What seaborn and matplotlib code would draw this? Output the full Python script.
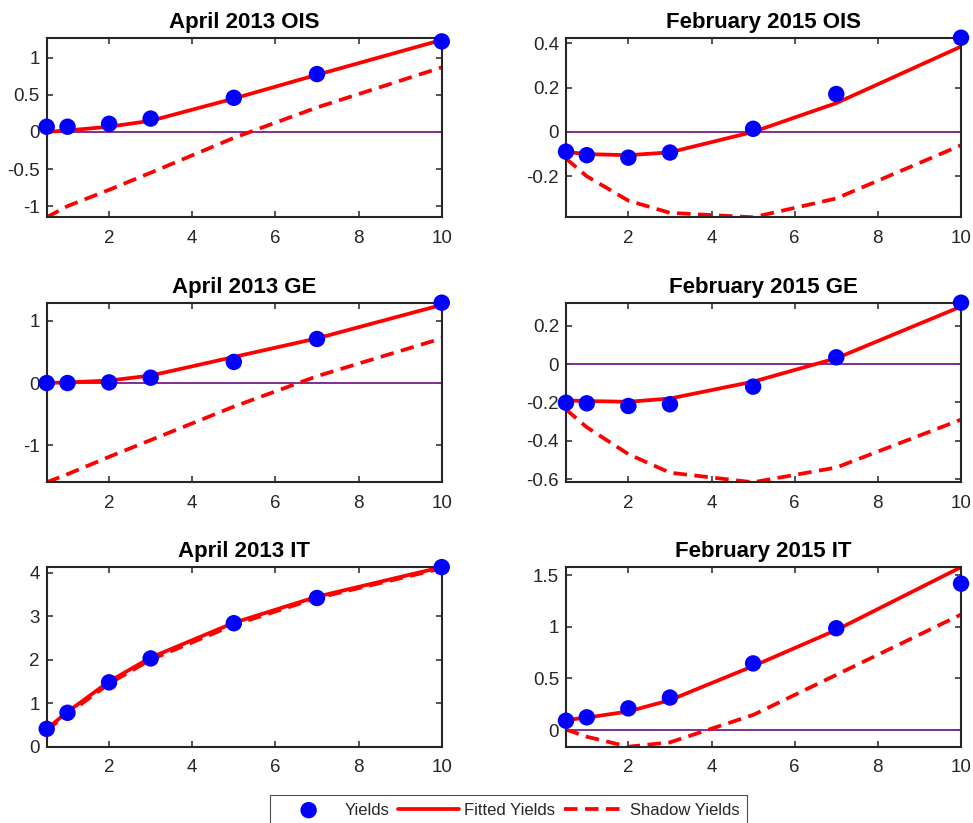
import numpy as np
import pandas as pd
import seaborn as sns
import matplotlib.pyplot as plt
from matplotlib.ticker import FuncFormatter

# maturities (years)
maturities = [0.5, 1, 2, 3, 5, 7, 10]

titles = ['April 2013 OIS', 'February 2015 OIS',
          'April 2013 GE', 'February 2015 GE',
          'April 2013 IT', 'February 2015 IT']

# observed yields
yields_ois_13 = [0.07, 0.07, 0.11, 0.18, 0.46, 0.78, 1.22]
yields_ois_15 = [-0.089, -0.105, -0.116, -0.093, 0.014, 0.171, 0.425]
yields_ge_13 = [0.0, 0.0, 0.01, 0.086, 0.34, 0.71, 1.295]
yields_ge_15 = [-0.202, -0.205, -0.219, -0.21, -0.118, 0.035, 0.32]
yields_it_13 = [0.41, 0.78, 1.48, 2.03, 2.84, 3.42, 4.13]
yields_it_15 = [0.09, 0.123, 0.21, 0.315, 0.646, 0.987, 1.42]

# fitted yields
fitted_ois_13 = [0.0, 0.02, 0.07, 0.15, 0.45, 0.77, 1.24]
fitted_ois_15 = [-0.09, -0.10, -0.105, -0.092, 0.0, 0.13, 0.385]
fitted_ge_13 = [0.0, 0.01, 0.04, 0.12, 0.42, 0.72, 1.26]
fitted_ge_15 = [-0.19, -0.193, -0.197, -0.18, -0.092, 0.03, 0.30]
fitted_it_13 = [0.41, 0.80, 1.50, 2.05, 2.85, 3.45, 4.13]
fitted_it_15 = [0.097, 0.12, 0.18, 0.29, 0.62, 0.97, 1.58]

# shadow yields
shadow_ois_13 = [-1.15, -1.0, -0.78, -0.55, -0.08, 0.33, 0.87]
shadow_ois_15 = [-0.12, -0.20, -0.31, -0.365, -0.385, -0.30, -0.06]
shadow_ge_13 = [-1.60, -1.47, -1.19, -0.92, -0.38, 0.11, 0.72]
shadow_ge_15 = [-0.237, -0.33, -0.47, -0.567, -0.617, -0.54, -0.29]
shadow_it_13 = [0.38, 0.75, 1.45, 2.0, 2.8, 3.42, 4.1]
shadow_it_15 = [0.005, -0.065, -0.162, -0.12, 0.146, 0.535, 1.12]

all_yields = [yields_ois_13, yields_ois_15, yields_ge_13, yields_ge_15, yields_it_13, yields_it_15]
all_fitted = [fitted_ois_13, fitted_ois_15, fitted_ge_13, fitted_ge_15, fitted_it_13, fitted_it_15]
all_shadow = [shadow_ois_13, shadow_ois_15, shadow_ge_13, shadow_ge_15, shadow_it_13, shadow_it_15]

ylims = [(-1.15, 1.27), (-0.385, 0.425), (-1.60, 1.295),
         (-0.617, 0.32), (0, 4.13), (-0.162, 1.58)]
yticks = [[-1, -0.5, 0, 0.5, 1], [-0.2, 0, 0.2, 0.4], [-1, 0, 1],
          [-0.6, -0.4, -0.2, 0, 0.2], [0, 1, 2, 3, 4], [0, 0.5, 1, 1.5]]

sns.set_style('ticks')
plt.rcParams['font.family'] = ['Liberation Sans', 'DejaVu Sans']

fig = plt.figure(figsize=(9.73, 8.23), dpi=100)

lefts = [0.048, 0.5817]
bottoms = [0.736, 0.414, 0.0927]
w, h = 0.406, 0.2182

axes = []
for i in range(6):
    ax = fig.add_axes([lefts[i % 2], bottoms[i // 2], w, h])
    axes.append(ax)
    df = pd.DataFrame({'maturity': maturities, 'yields': all_yields[i],
                       'fitted': all_fitted[i], 'shadow': all_shadow[i]})

    ax.axhline(0, color='#7E2F8E', lw=1.4, zorder=1)
    sns.lineplot(data=df, x='maturity', y='fitted', color='red', lw=2.7,
                 label='Fitted Yields', ax=ax, zorder=2)
    sns.lineplot(data=df, x='maturity', y='shadow', color='red', lw=2.7,
                 label='Shadow Yields', ax=ax, zorder=2)
    ax.lines[-1].set_linestyle((0, (3.6, 2.0)))
    sns.scatterplot(data=df, x='maturity', y='yields', color='blue', s=140,
                    edgecolor='none', label='Yields', ax=ax, zorder=3,
                    clip_on=False)

    ax.set_xlim(0.5, 10)
    ax.set_ylim(*ylims[i])
    ax.set_xticks([2, 4, 6, 8, 10])
    ax.set_yticks(yticks[i])
    ax.yaxis.set_major_formatter(FuncFormatter(lambda v, p: '%g' % v))
    ax.set_xlabel('')
    ax.set_ylabel('')
    ax.set_title(titles[i], fontsize=16, fontweight='bold', pad=7, color='black')
    ax.tick_params(direction='in', length=4, width=1.1, top=True, right=True,
                   labelsize=13.5, colors='#262626')
    ax.tick_params(axis='x', pad=9)
    ax.tick_params(axis='y', pad=5)
    for sp in ax.spines.values():
        sp.set_visible(True)
        sp.set_color('#262626')
        sp.set_linewidth(1.5)
    ax.get_legend().remove()

handles, labels = axes[0].get_legend_handles_labels()
order = [labels.index(l) for l in ['Yields', 'Fitted Yields', 'Shadow Yields']]
leg = fig.legend([handles[k] for k in order], [labels[k] for k in order],
                 loc='upper center', bbox_to_anchor=(0.523, 0.034), ncol=3,
                 fontsize=12, frameon=True, fancybox=False, edgecolor='#262626',
                 handlelength=3.7, columnspacing=0.5, handletextpad=0.3,
                 borderpad=0.45, borderaxespad=0)
leg.get_frame().set_linewidth(0.8)

fig.savefig('out.png', dpi=100)
